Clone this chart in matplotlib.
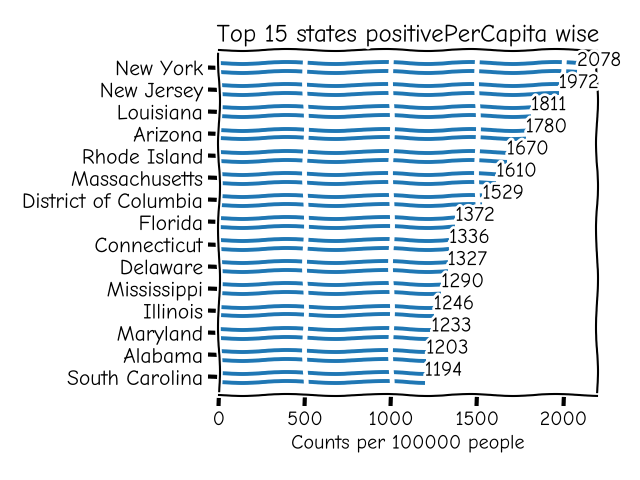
import numpy as np
import matplotlib
matplotlib.use("Agg")
import matplotlib.pyplot as plt

states = ["New York", "New Jersey", "Louisiana", "Arizona", "Rhode Island",
          "Massachusetts", "District of Columbia", "Florida", "Connecticut",
          "Delaware", "Mississippi", "Illinois", "Maryland", "Alabama",
          "South Carolina"]
counts = [2078, 1972, 1811, 1780, 1670, 1610, 1529, 1372, 1336, 1327,
          1290, 1246, 1233, 1203, 1194]

plt.xkcd()
fig = plt.figure(figsize=(6.4, 4.8), dpi=100)
ax = fig.add_axes([0.342, 0.177, 0.591, 0.719])

y = np.arange(len(states))
# bars drawn as their top and bottom outlines
ax.hlines(y - 0.2, 0, counts, color="#1f77b4", linewidth=2.8)
ax.hlines(y + 0.2, 0, counts, color="#1f77b4", linewidth=2.8)
ax.set_yticks(y)
ax.set_yticklabels(states, fontsize=15.5)
ax.set_ylim(14.8, -0.8)

# white grid lines cutting the bars
ax.vlines([500, 1000, 1500, 2000], -0.5, 14.5, color="white",
          linewidth=3.5, zorder=3)

for yi, c in zip(y, counts):
    ax.text(c, yi - 0.3, str(c), va="center", ha="left", fontsize=15,
            zorder=5)

ax.set_xlim(0, 2195)
ax.set_xticks([0, 500, 1000, 1500, 2000])
ax.tick_params(axis="x", labelsize=14.5)
ax.set_xlabel("Counts per 100000 people", fontsize=14.5)
ax.set_title("Top 15 states positivePerCapita wise", fontsize=18)

plt.savefig("out.png", dpi=100)
